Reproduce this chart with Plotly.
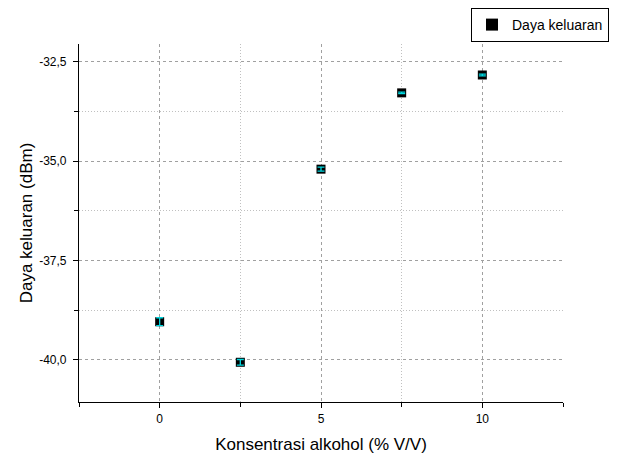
import plotly.graph_objects as go

konsentrasi = [0, 2.5, 5, 7.5, 10]
daya = [-39.04, -40.06, -35.2, -33.28, -32.83]
galat = [0.1, 0.07, 0.05, 0.02, 0.02]

fig = go.Figure()
fig.add_trace(go.Scatter(
    x=konsentrasi, y=daya, mode="markers", name="Daya keluaran",
    marker=dict(symbol="square", size=9, color="black", line=dict(width=0)),
))
fig.add_trace(go.Scatter(
    x=konsentrasi, y=daya, mode="markers", name="galat", showlegend=False,
    marker=dict(size=1, opacity=0),
    error_y=dict(type="data", array=galat, color="#00d8e0", thickness=1.3, width=3.5),
    hoverinfo="skip",
))

fig.update_layout(
    width=609, height=448,
    margin=dict(l=71, r=54, t=36, b=54, autoexpand=False),
    plot_bgcolor="white", paper_bgcolor="white",
    font=dict(family="Liberation Sans, Arial, sans-serif", color="black"),
    showlegend=True,
    legend=dict(x=463 / 609, y=1.0, xref="container", yref="container", xanchor="left", yanchor="top",
                bordercolor="black", borderwidth=1, font=dict(size=14),
                itemsizing="constant", tracegroupgap=0, itemwidth=30),
)
fig.update_xaxes(
    automargin=False,
    range=[-2.5, 12.5], tickvals=[0, 5, 10], ticktext=["0", "5", "10"],
    ticks="outside", ticklen=5, tickcolor="black", tickwidth=1,
    showline=True, linecolor="black", linewidth=1.2, zeroline=False,
    showgrid=True, gridcolor="#a0a0a0", griddash="3px,3px", gridwidth=1,
    minor=dict(tickvals=[-2.5, 2.5, 7.5, 12.5], ticks="outside", ticklen=4, tickcolor="black",
               showgrid=True, gridcolor="#c0c0c0", griddash="1px,2px"),
    tickfont=dict(size=12),
    title=dict(text="Konsentrasi alkohol (% V/V)", font=dict(size=17), standoff=13),
)
fig.update_yaxes(
    automargin=False,
    range=[-41.06, -32.05], tickvals=[-40, -37.5, -35, -32.5],
    ticktext=["-40,0", "-37,5", "-35,0", "-32,5"],
    ticks="outside", ticklen=5, tickcolor="black", tickwidth=1, ticklabelstandoff=4,
    showline=True, linecolor="black", linewidth=1.2, zeroline=False,
    showgrid=True, gridcolor="#a0a0a0", griddash="3px,3px", gridwidth=1,
    minor=dict(tickvals=[-38.75, -36.25, -33.75], ticks="outside", ticklen=4, tickcolor="black",
               showgrid=True, gridcolor="#c0c0c0", griddash="1px,2px"),
    tickfont=dict(size=12),
    title=dict(text="Daya keluaran (dBm)", font=dict(size=17), standoff=2),
)

fig.write_html("out.html")
